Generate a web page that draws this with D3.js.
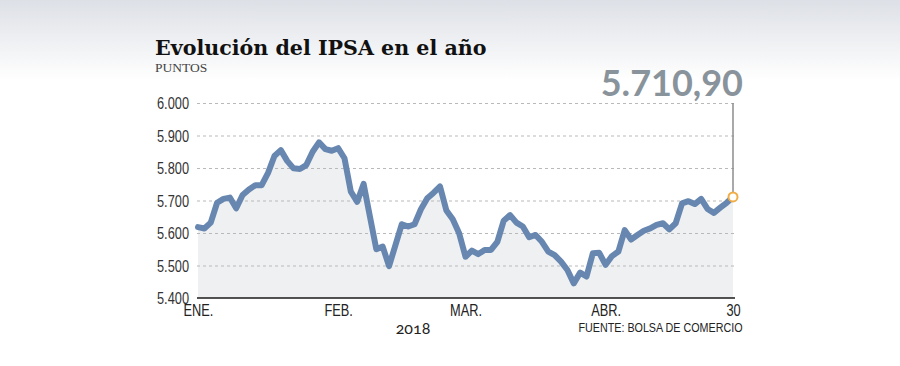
<!DOCTYPE html>
<html><head><meta charset="utf-8">
<script src="https://cdn.jsdelivr.net/npm/d3@7"></script>
<style>
html,body{margin:0;padding:0;background:#fff;}
svg{display:block;}
</style></head>
<body>
<svg id="chart" width="900" height="366"></svg>
<script>
// ---- data ----
const title = "Evolución del IPSA en el año";
const subtitle = "PUNTOS";
const lastValue = 5710.90;
const ipsaValues = [
  5618, 5614, 5632, 5693, 5705, 5709, 5676, 5717, 5734, 5747,
  5747, 5785, 5837, 5855, 5822, 5799, 5797, 5809, 5850, 5879,
  5858, 5853, 5861, 5830, 5727, 5696, 5751, 5650, 5550, 5558,
  5498, 5563, 5627, 5620, 5627, 5673, 5707, 5724, 5743, 5669,
  5642, 5599, 5527, 5546, 5535, 5548, 5548, 5573, 5638, 5655,
  5632, 5620, 5587, 5594, 5573, 5543, 5532, 5512, 5486, 5445,
  5478, 5466, 5538, 5539, 5502, 5529, 5543, 5609, 5580, 5594,
  5607, 5614, 5625, 5630, 5611, 5630, 5691, 5698, 5689, 5705,
  5674, 5662, 5678, 5693, 5710.9
];
const yTicks = [5400, 5500, 5600, 5700, 5800, 5900, 6000];
const monthLabels = ["ENE.", "FEB.", "MAR.", "ABR.", "30"];
const monthIndex = [0, 22, 42, 64, 84];
const yearLabel = "2018";
const sourceLabel = "FUENTE: BOLSA DE COMERCIO";

// ---- layout ----
const mLeft = 198, mRight = 733, mTop = 103, mBottom = 298;
const cond = 0.8; // horizontal condensing for the narrow sans labels
const sansFont = "'Liberation Sans', Arial, sans-serif";
const svg = d3.select("#chart");
const es = d3.formatLocale({decimal: ",", thousands: ".", grouping: [3], currency: ["$", ""]});

const defs = svg.append("defs");
const grad = defs.append("linearGradient").attr("id", "bg").attr("x1", 0).attr("y1", 0).attr("x2", 0).attr("y2", 1);
grad.append("stop").attr("offset", "0%").attr("stop-color", "#dde0e6");
grad.append("stop").attr("offset", "100%").attr("stop-color", "#ffffff");
svg.append("rect").attr("x", 0).attr("y", 0).attr("width", 900).attr("height", 80).attr("fill", "url(#bg)");

const x = d3.scaleLinear().domain([0, ipsaValues.length - 1]).range([mLeft, mRight]);
const y = d3.scaleLinear().domain([5400, 6000]).range([mBottom, mTop]);

// area
const area = d3.area().x((d, i) => x(i)).y0(y(5400)).y1(d => y(d));
svg.append("path").datum(ipsaValues).attr("d", area).attr("fill", "#eff0f2");

// y axis with gridlines
const yAxis = svg.append("g").attr("transform", `translate(${mLeft - 1},0)`)
  .call(d3.axisLeft(y).tickValues(yTicks).tickFormat(es.format(",.0f"))
    .tickSize(-(mRight - mLeft + 4)).tickPadding(8));
yAxis.select(".domain").remove();
yAxis.selectAll(".tick line").attr("stroke", "#b9b9b9").attr("stroke-width", 1).attr("stroke-dasharray", "3,3")
  .attr("display", d => d === 5400 ? "none" : null);
yAxis.selectAll(".tick text").attr("fill", "#333")
  .style("font-family", sansFont).style("font-size", "16px").attr("dy", "0.36em")
  .attr("x", -8 / cond).attr("transform", `scale(${cond},1)`);

// baseline
svg.append("line").attr("x1", mLeft - 1).attr("x2", mRight + 2).attr("y1", y(5400)).attr("y2", y(5400))
  .attr("stroke", "#1a1a1a").attr("stroke-width", 1.5);

// line
const line = d3.line().x((d, i) => x(i)).y(d => y(d));
svg.append("path").datum(ipsaValues).attr("d", line).attr("fill", "none")
  .attr("stroke", "#6787b0").attr("stroke-width", 6).attr("stroke-linejoin", "round").attr("stroke-linecap", "round");

// x axis labels
const xAxis = svg.append("g").attr("transform", `translate(0,${mBottom})`)
  .call(d3.axisBottom(x).tickValues(monthIndex).tickFormat((d, i) => monthLabels[i]).tickSize(0).tickPadding(0));
xAxis.select(".domain").remove();
xAxis.selectAll(".tick text").attr("y", 18.5).attr("dy", 0).attr("fill", "#222")
  .style("font-family", sansFont).style("font-size", "16px")
  .attr("transform", `scale(${cond},1)`);

// year
svg.append("text").attr("x", 413).attr("y", 334).attr("text-anchor", "middle").text(yearLabel)
  .attr("fill", "#222").style("font-family", "Lato, sans-serif").style("font-size", "16px")
  .style("font-variant-numeric", "oldstyle-nums");

// source
svg.append("text").attr("x", 578.5).attr("y", 331.5).text(sourceLabel)
  .attr("textLength", 164).attr("lengthAdjust", "spacingAndGlyphs")
  .attr("fill", "#222").style("font-family", sansFont).style("font-size", "12px");

// end marker & leader
const lastI = ipsaValues.length - 1;
svg.append("line").attr("x1", x(lastI)).attr("x2", x(lastI)).attr("y1", y(6000)).attr("y2", y(ipsaValues[lastI]))
  .attr("stroke", "#8c8c8c").attr("stroke-width", 1.5);
svg.append("circle").attr("cx", x(lastI)).attr("cy", y(ipsaValues[lastI])).attr("r", 4.5)
  .attr("fill", "#fff").attr("stroke", "#f0ad45").attr("stroke-width", 2);

// value label
svg.append("text").attr("x", 743).attr("y", 96).attr("text-anchor", "end")
  .text(es.format(",.2f")(lastValue))
  .attr("fill", "#89939b").style("font-family", "Lato, sans-serif").style("font-weight", "bold").style("font-size", "36px");

// title
svg.append("text").attr("x", 155).attr("y", 55).text(title)
  .attr("fill", "#111").style("font-family", "'DejaVu Serif', serif").style("font-weight", "bold").style("font-size", "20.6px");
svg.append("text").attr("x", 155).attr("y", 71.5).text(subtitle)
  .attr("fill", "#444").style("font-family", "'Liberation Serif', serif").style("font-size", "13.5px");
</script>
</body></html>
